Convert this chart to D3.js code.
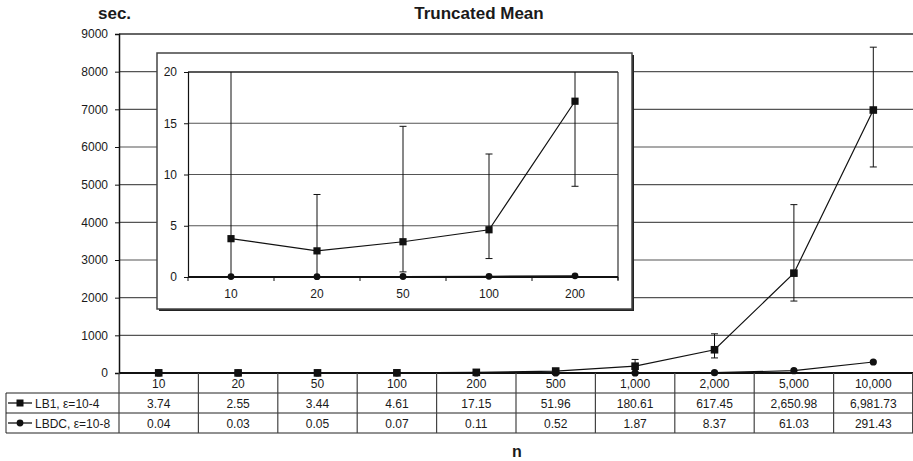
<!DOCTYPE html>
<html><head><meta charset="utf-8">
<script src="https://cdn.jsdelivr.net/npm/d3@7"></script>
<style>
body{margin:0;background:#fff;}
text{font-family:"Liberation Sans",Arial,sans-serif;fill:#1a1a1a;}
</style></head>
<body><svg id="c" width="913" height="461"></svg>
<script>
// ---- data ----
const categories = ["10","20","50","100","200","500","1,000","2,000","5,000","10,000"];
const lb1 = [3.74,2.55,3.44,4.61,17.15,51.96,180.61,617.45,2650.98,6981.73];
const lbdc = [0.04,0.03,0.05,0.07,0.11,0.52,1.87,8.37,61.03,291.43];
const lb1Upper = [25,8.05,14.7,12.0,25.5,75,360,1040,4470,8650];
const lb1Lower = [0,0,0.5,1.8,8.85,30,0,400,1910,5470];
const lb1Labels = ["3.74","2.55","3.44","4.61","17.15","51.96","180.61","617.45","2,650.98","6,981.73"];
const lbdcLabels = ["0.04","0.03","0.05","0.07","0.11","0.52","1.87","8.37","61.03","291.43"];
const seriesNames = ["LB1, \u03b5=10-4","LBDC, \u03b5=10-8"];
const mainTicks = [0,1000,2000,3000,4000,5000,6000,7000,8000,9000];
const insetTicks = [0,5,10,15,20];
const insetCount = 5;

const svg = d3.select("#c");

// ---- main chart ----
const x = d3.scaleBand().domain(categories).range([119,913]).padding(0);
const y = d3.scaleLinear().domain([0,9000]).range([373,34]);
const cx = d => x(d)+x.bandwidth()/2;

// gridlines
svg.append("g").selectAll("line").data(mainTicks.filter(t=>t>0 && t<9000)).join("line")
  .attr("x1",119).attr("x2",913).attr("y1",d=>y(d)).attr("y2",d=>y(d))
  .attr("stroke","#555").attr("stroke-width",1.2);
svg.append("line").attr("x1",119).attr("x2",913).attr("y1",y(9000)).attr("y2",y(9000))
  .attr("stroke","#333").attr("stroke-width",1.3);

// y axis
const yAxis = d3.axisLeft(y).tickValues(mainTicks).tickSize(4).tickPadding(7).tickFormat(d3.format("d"));
const gy = svg.append("g").attr("transform","translate(119,0)").call(yAxis);
gy.select(".domain").attr("stroke","#111").attr("stroke-width",1.5);
gy.selectAll(".tick line").attr("stroke","#111");
gy.selectAll("text").style("font-size","12px").attr("fill","#1a1a1a");

// error bars main
const eb = svg.append("g");
categories.forEach((c,i)=>{
  const xx = cx(c);
  eb.append("line").attr("x1",xx).attr("x2",xx).attr("y1",y(lb1Upper[i])).attr("y2",y(lb1Lower[i])).attr("stroke","#111");
  [lb1Upper[i],lb1Lower[i]].forEach(v=>{
    eb.append("line").attr("x1",xx-3.5).attr("x2",xx+3.5).attr("y1",y(v)).attr("y2",y(v)).attr("stroke","#111");
  });
});

// lines
const lineMain = d3.line().x((d,i)=>cx(categories[i])).y(d=>y(d));
svg.append("path").datum(lbdc).attr("d",lineMain).attr("fill","none").attr("stroke","#111").attr("stroke-width",1.2);
svg.append("path").datum(lb1).attr("d",lineMain).attr("fill","none").attr("stroke","#111").attr("stroke-width",1.2);
svg.append("g").selectAll("circle").data(lbdc).join("circle")
  .attr("cx",(d,i)=>cx(categories[i])).attr("cy",d=>y(d)).attr("r",3.6).attr("fill","#111");
svg.append("g").selectAll("rect").data(lb1).join("rect")
  .attr("x",(d,i)=>cx(categories[i])-3.8).attr("y",d=>y(d)-3.8).attr("width",7.6).attr("height",7.6).attr("fill","#111");

// x axis line
svg.append("line").attr("x1",119).attr("x2",913).attr("y1",373).attr("y2",373).attr("stroke","#111").attr("stroke-width",2);

// ---- table ----
const tb = svg.append("g");
const rowY = [373,393,413,433];
[393,413,433].forEach(yy=>tb.append("line").attr("x1",6).attr("x2",913).attr("y1",yy).attr("y2",yy).attr("stroke","#222").attr("stroke-width",1));
tb.append("line").attr("x1",6).attr("x2",6).attr("y1",393).attr("y2",433).attr("stroke","#222");
categories.forEach((c,i)=>{
  tb.append("line").attr("x1",x(c)).attr("x2",x(c)).attr("y1",373).attr("y2",433).attr("stroke","#444").attr("stroke-width",1.2);
});
tb.append("line").attr("x1",912.5).attr("x2",912.5).attr("y1",373).attr("y2",433).attr("stroke","#444");
const rows = [categories, lb1Labels, lbdcLabels];
rows.forEach((r,ri)=>{
  tb.append("g").selectAll("text").data(r).join("text")
    .attr("x",(d,i)=>cx(categories[i])).attr("y",rowY[ri]+14.5)
    .attr("text-anchor","middle").style("font-size","12px").text(d=>d);
});
// legend keys
seriesNames.forEach((s,i)=>{
  const yy = 403 + i*20;
  tb.append("line").attr("x1",8).attr("x2",32).attr("y1",yy).attr("y2",yy).attr("stroke","#111").attr("stroke-width",1.3);
  if(i===0) tb.append("rect").attr("x",16.5).attr("y",yy-3.5).attr("width",7).attr("height",7).attr("fill","#111");
  else tb.append("circle").attr("cx",20).attr("cy",yy).attr("r",3.4).attr("fill","#111");
  tb.append("text").attr("x",35).attr("y",yy+4.5).style("font-size","12px").text(s);
});

// titles
svg.append("text").attr("x",479).attr("y",19).attr("text-anchor","middle")
  .style("font-size","17px").style("font-weight","bold").text("Truncated Mean");
svg.append("text").attr("x",98).attr("y",19)
  .style("font-size","17px").style("font-weight","bold").text("sec.");
svg.append("text").attr("x",517).attr("y",457).attr("text-anchor","middle")
  .style("font-size","16px").style("font-weight","bold").text("n");

// ---- inset ----
const ins = svg.append("g");
ins.append("rect").attr("x",159).attr("y",55).attr("width",475).attr("height",256).attr("fill","#222");
ins.append("rect").attr("x",157).attr("y",53).attr("width",475).attr("height",256).attr("fill","#fff").attr("stroke","#444").attr("stroke-width",1.5);

const icats = categories.slice(0,insetCount);
const xi = d3.scaleBand().domain(icats).range([188,618]).padding(0);
const yi = d3.scaleLinear().domain([0,20]).range([277,72]);
const cxi = d => xi(d)+xi.bandwidth()/2;

ins.append("defs").append("clipPath").attr("id","ic").append("rect").attr("x",185).attr("y",72).attr("width",436).attr("height",206);

ins.append("g").selectAll("line").data(insetTicks.filter(t=>t>0&&t<20)).join("line")
  .attr("x1",188).attr("x2",618).attr("y1",d=>yi(d)).attr("y2",d=>yi(d)).attr("stroke","#555").attr("stroke-width",1.2);
ins.append("line").attr("x1",188).attr("x2",618).attr("y1",72).attr("y2",72).attr("stroke","#222").attr("stroke-width",1.3);
ins.append("line").attr("x1",618).attr("x2",618).attr("y1",72).attr("y2",280).attr("stroke","#333").attr("stroke-width",1.2);

const giy = ins.append("g").attr("transform","translate(188,0)")
  .call(d3.axisLeft(yi).tickValues(insetTicks).tickSize(4).tickPadding(7));
giy.select(".domain").attr("stroke","#111").attr("stroke-width",1.2);
giy.selectAll(".tick line").attr("stroke","#111");
giy.selectAll("text").style("font-size","12px").attr("fill","#1a1a1a");

const gix = ins.append("g").attr("transform","translate(0,277)")
  .call(d3.axisBottom(xi).tickSize(0).tickPadding(12));
gix.select(".domain").remove();
gix.selectAll("text").style("font-size","12px").attr("fill","#1a1a1a");
ins.append("g").selectAll("line").data(icats.concat(["end"])).join("line")
  .attr("x1",(d,i)=>188+i*xi.bandwidth()).attr("x2",(d,i)=>188+i*xi.bandwidth())
  .attr("y1",277).attr("y2",281).attr("stroke","#111");

const ieb = ins.append("g").attr("clip-path","url(#ic)");
icats.forEach((c,i)=>{
  const xx = cxi(c);
  ieb.append("line").attr("x1",xx).attr("x2",xx).attr("y1",yi(lb1Upper[i])).attr("y2",yi(lb1Lower[i])).attr("stroke","#111");
  [lb1Upper[i],lb1Lower[i]].forEach(v=>{
    ieb.append("line").attr("x1",xx-3.5).attr("x2",xx+3.5).attr("y1",yi(v)).attr("y2",yi(v)).attr("stroke","#111");
  });
});
const lineIn = d3.line().x((d,i)=>cxi(icats[i])).y(d=>yi(d));
ins.append("path").datum(lbdc.slice(0,insetCount)).attr("d",lineIn).attr("fill","none").attr("stroke","#111").attr("stroke-width",1.2);
ins.append("path").datum(lb1.slice(0,insetCount)).attr("d",lineIn).attr("fill","none").attr("stroke","#111").attr("stroke-width",1.2);
ins.append("line").attr("x1",188).attr("x2",618).attr("y1",277).attr("y2",277).attr("stroke","#111").attr("stroke-width",2);
ins.append("g").selectAll("circle").data(lbdc.slice(0,insetCount)).join("circle")
  .attr("cx",(d,i)=>cxi(icats[i])).attr("cy",d=>yi(d)).attr("r",3.4).attr("fill","#111");
ins.append("g").selectAll("rect").data(lb1.slice(0,insetCount)).join("rect")
  .attr("x",(d,i)=>cxi(icats[i])-3.6).attr("y",d=>yi(d)-3.6).attr("width",7.2).attr("height",7.2).attr("fill","#111");
</script></body></html>
